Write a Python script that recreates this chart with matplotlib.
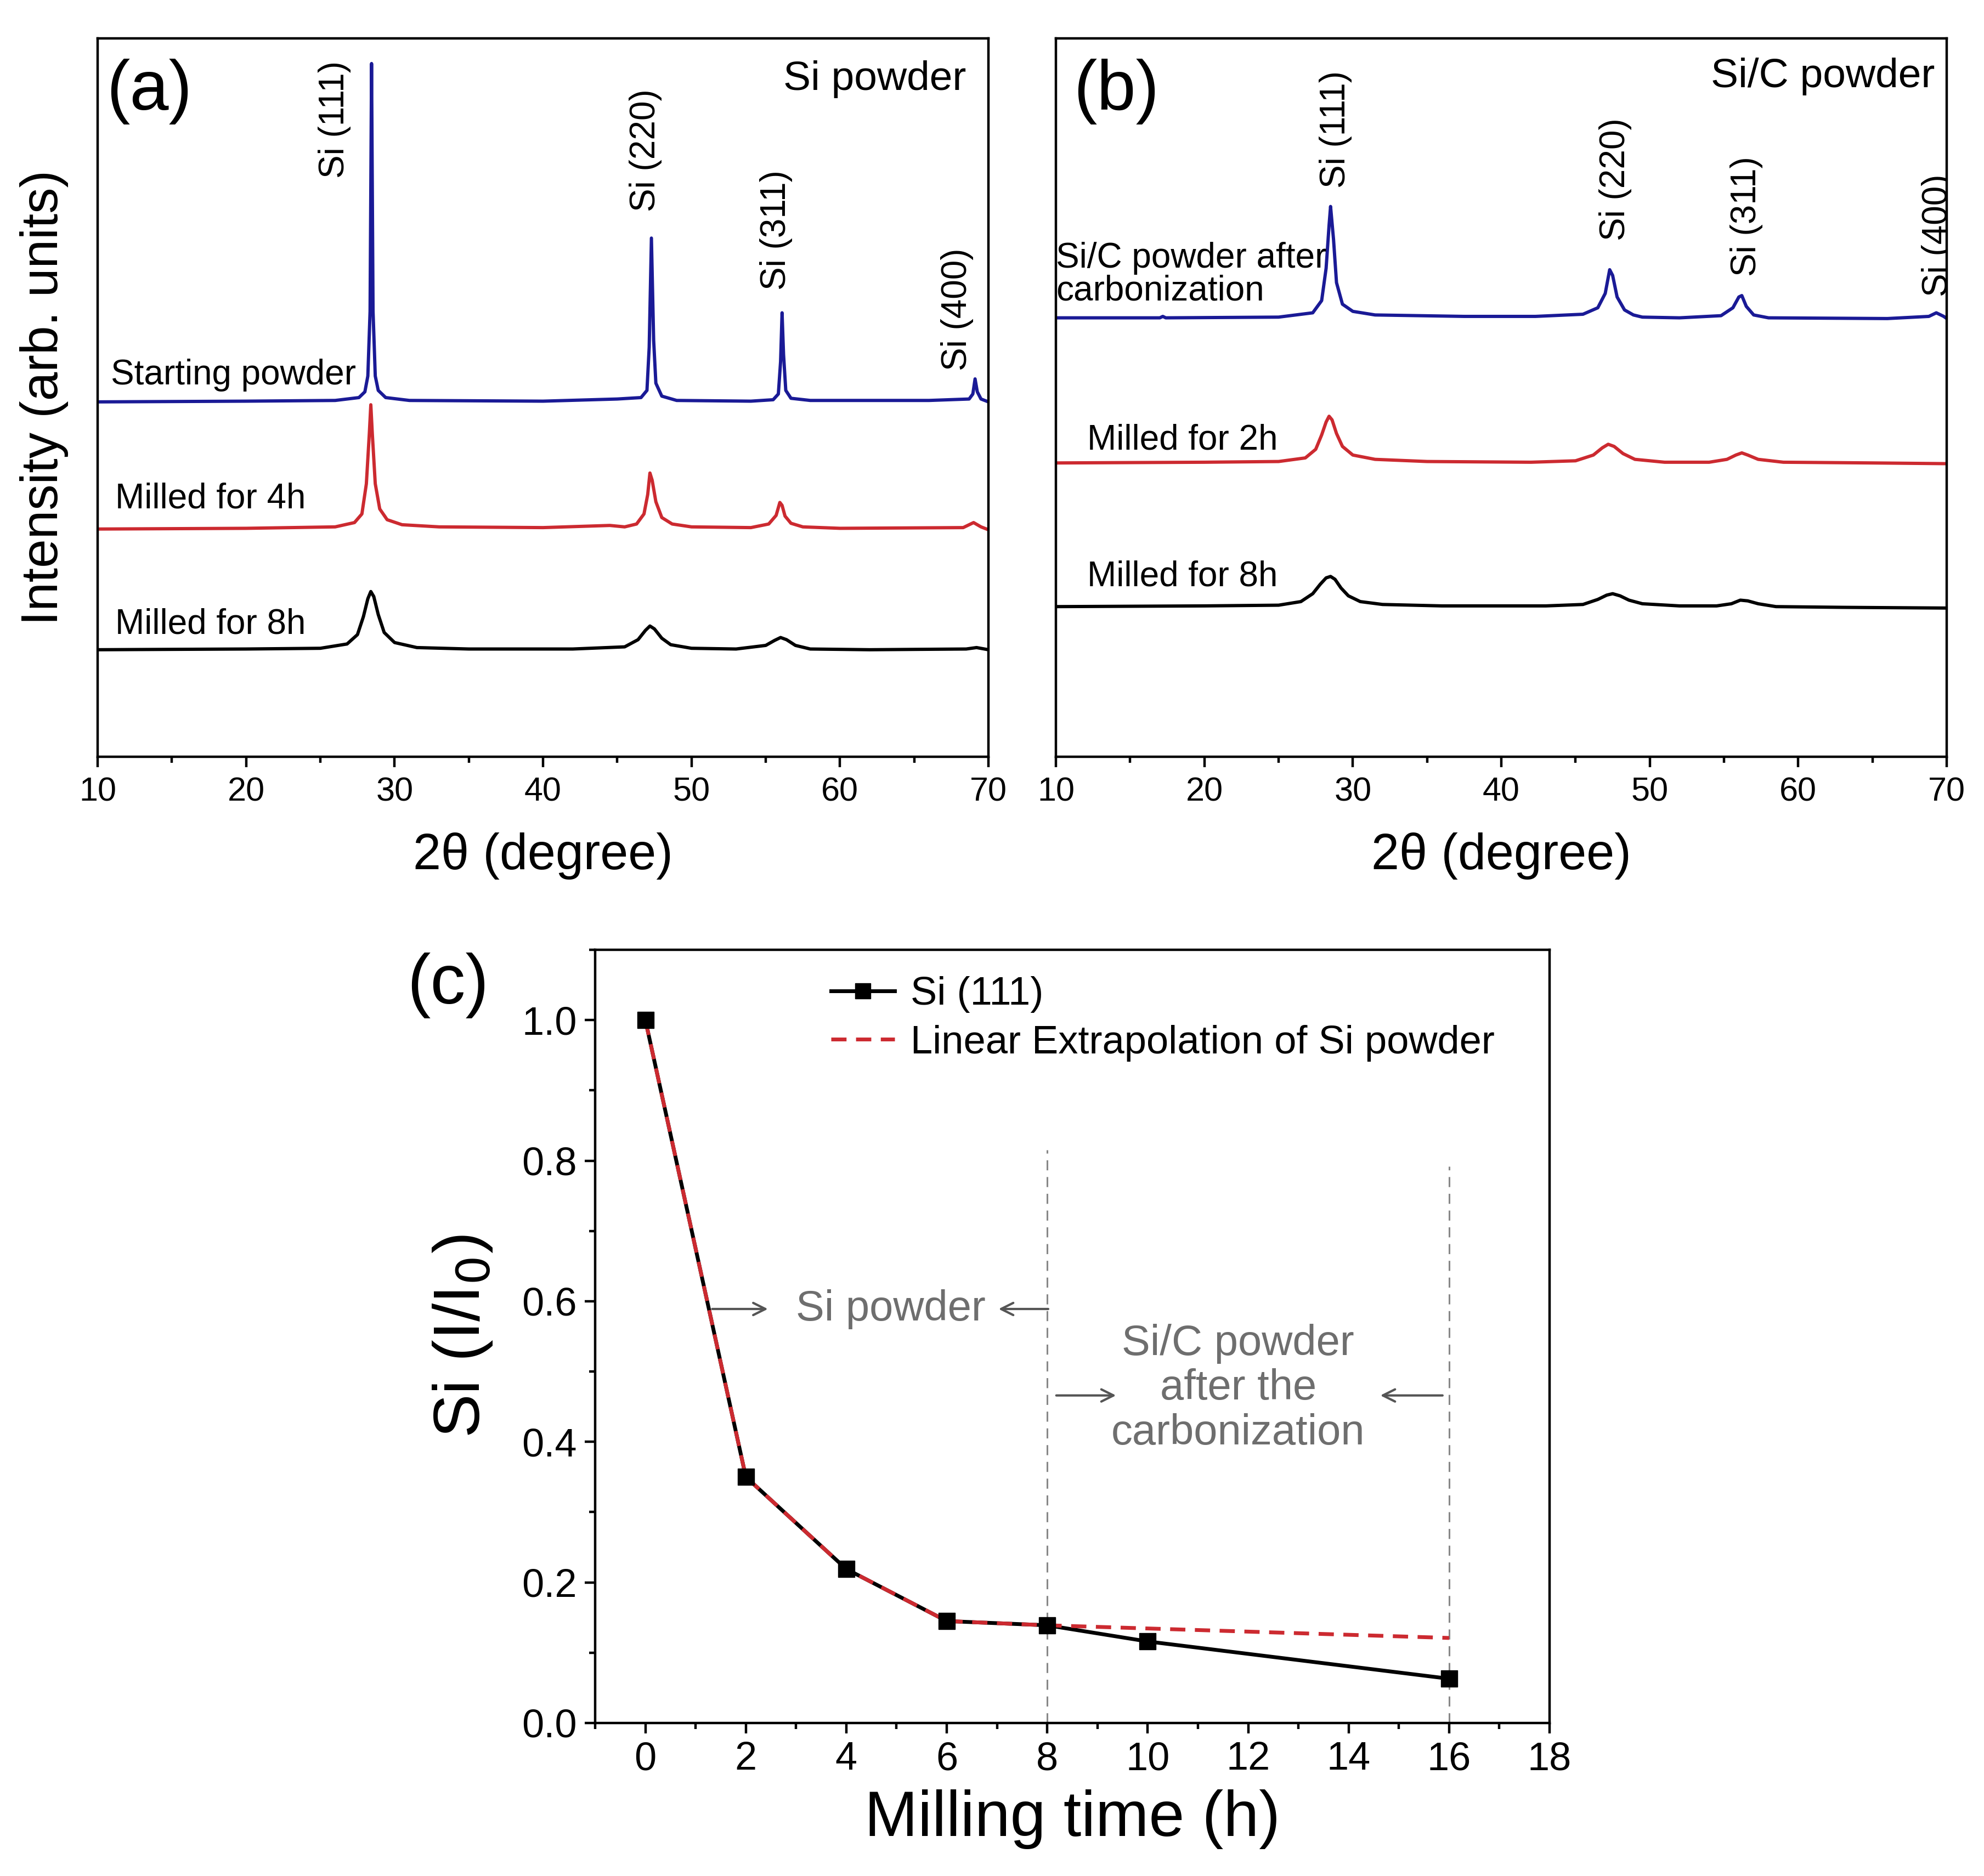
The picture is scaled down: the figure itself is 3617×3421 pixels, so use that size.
import matplotlib
matplotlib.use("Agg")
import matplotlib.pyplot as plt
from matplotlib.ticker import MultipleLocator

plt.rcParams['font.family'] = ['Liberation Sans', 'DejaVu Sans']

# ---- panel (a): Si powder, XRD traces (2theta, offset intensity) ----
a_start_x = [10, 20, 26, 27.6, 28.0, 28.2, 28.35, 28.45, 28.55, 28.7, 28.9, 29.4, 31, 40, 45,
             46.6, 47.0, 47.15, 47.3, 47.45, 47.6, 48.0, 49, 54, 55.5, 55.85, 56.0, 56.1, 56.2,
             56.35, 56.7, 58, 66, 68.7, 68.95, 69.1, 69.25, 69.5, 70]
a_start_y = [49.4, 49.5, 49.6, 50.0, 50.8, 53, 62, 96.5, 62, 53, 51, 50.0, 49.6, 49.5, 49.8,
             50.0, 51, 57, 72.2, 58, 52, 50.2, 49.6, 49.5, 49.7, 50.5, 55, 61.8, 56,
             51, 49.9, 49.6, 49.6, 49.8, 50.5, 52.6, 50.8, 49.8, 49.4]

a_4h_x = [10, 20, 26, 27.3, 27.8, 28.1, 28.3, 28.4, 28.5, 28.7, 29.0, 29.5, 30.5, 33, 40, 44.5,
          45.5, 46.3, 46.8, 47.05, 47.2, 47.35, 47.6, 48.0, 48.7, 50, 54, 55.2, 55.7, 55.95,
          56.1, 56.3, 56.7, 57.5, 60, 68.3, 69.0, 69.5, 70]
a_4h_y = [31.7, 31.8, 32.0, 32.6, 33.8, 38, 45, 49.0, 45, 38, 34.5, 33.0, 32.3, 32.0, 31.9, 32.2,
          32.0, 32.4, 33.8, 36.5, 39.5, 38.5, 35.5, 33.3, 32.4, 32.0, 31.9, 32.4, 33.6, 35.4,
          35.0, 33.5, 32.5, 32.0, 31.8, 31.9, 32.6, 32.0, 31.6]

a_8h_x = [10, 20, 25, 26.8, 27.5, 27.9, 28.2, 28.4, 28.6, 28.9, 29.3, 30.0, 31.5, 35, 42, 45.5,
          46.4, 46.9, 47.2, 47.5, 48.0, 48.6, 50, 53, 55.0, 55.6, 56.0, 56.4, 57.0, 58, 62,
          68.5, 69.2, 70]
a_8h_y = [14.9, 15.0, 15.1, 15.7, 17.0, 19.5, 22.0, 23.0, 22.3, 19.8, 17.3, 15.9, 15.2, 15.0,
          15.0, 15.3, 16.3, 17.6, 18.2, 17.8, 16.5, 15.6, 15.1, 15.0, 15.5, 16.2, 16.6, 16.3,
          15.5, 15.0, 14.9, 15.0, 15.2, 14.9]

# ---- panel (b): Si/C powder ----
b_carb_x = [10, 17, 17.2, 17.4, 25, 27.3, 27.9, 28.2, 28.4, 28.5, 28.7, 28.9, 29.3, 30, 31.5,
            37.5, 42.3, 45.5, 46.5, 47.0, 47.3, 47.5, 47.8, 48.3, 48.9, 49.5, 52, 54.8, 55.6,
            56.0, 56.2, 56.5, 57.0, 58, 66, 68.8, 69.3, 69.8, 70]
b_carb_y = [61.1, 61.1, 61.3, 61.1, 61.2, 61.8, 63.5, 68, 74, 76.6, 72, 66, 63, 62, 61.5,
            61.3, 61.3, 61.6, 62.5, 64.5, 67.8, 67.0, 64.0, 62.2, 61.5, 61.2, 61.1, 61.4, 62.5,
            64.0, 64.2, 62.7, 61.5, 61.1, 61.0, 61.3, 61.8, 61.3, 61.0]

b_2h_x = [10, 20, 25, 26.8, 27.5, 27.9, 28.2, 28.4, 28.6, 28.9, 29.3, 30, 31.5, 35, 42, 45,
          46.2, 46.8, 47.2, 47.6, 48.2, 49, 51, 54, 55.2, 55.8, 56.2, 56.6, 57.3, 59, 65, 70]
b_2h_y = [40.9, 41.0, 41.1, 41.6, 42.8, 44.8, 46.6, 47.4, 46.9, 45.0, 43.2, 42.0, 41.4, 41.1,
          41.0, 41.2, 42.0, 43.0, 43.5, 43.2, 42.2, 41.4, 41.0, 41.0, 41.4, 42.0, 42.3, 42.0,
          41.4, 41.0, 40.9, 40.8]

b_8h_x = [10, 20, 25, 26.5, 27.3, 27.8, 28.2, 28.5, 28.8, 29.2, 29.7, 30.5, 32, 36, 43, 45.5,
          46.5, 47.1, 47.5, 48.0, 48.6, 49.5, 52, 54.5, 55.5, 56.1, 56.6, 57.3, 58.5, 63, 70]
b_8h_y = [20.9, 21.0, 21.1, 21.6, 22.7, 24.0, 24.9, 25.1, 24.7, 23.5, 22.4, 21.6, 21.2, 21.0,
          21.0, 21.2, 21.9, 22.5, 22.7, 22.4, 21.8, 21.3, 21.0, 21.0, 21.3, 21.8, 21.7, 21.3,
          20.9, 20.8, 20.7]

peak_names = ["Si (111)", "Si (220)", "Si (311)", "Si (400)"]

# ---- panel (c): relative Si(111) intensity ----
mill_time = [0, 2, 4, 6, 8, 10, 16]
si111_ratio = [1.0, 0.350, 0.219, 0.145, 0.139, 0.116, 0.063]
extrap_time = [0, 2, 4, 6, 8, 16]
extrap_ratio = [1.0, 0.350, 0.219, 0.145, 0.139, 0.121]

BLUE = "#1a1a96"
RED = "#cc2a30"
GREY = "#6e6e6e"

W, H = 3617, 3421
fig = plt.figure(figsize=(W / 100, H / 100), dpi=100)


def style_xrd(ax):
    ax.set_xlim(10, 70)
    ax.set_ylim(0, 100)
    ax.set_yticks([])
    ax.xaxis.set_major_locator(MultipleLocator(10))
    ax.xaxis.set_minor_locator(MultipleLocator(5))
    ax.tick_params(axis="x", which="major", direction="out", length=14, width=3.2,
                   labelsize=44, pad=12)
    ax.tick_params(axis="x", which="minor", direction="out", length=8, width=3.2)
    for s in ax.spines.values():
        s.set_linewidth(3.2)
    ax.set_xlabel("2\u03b8 (degree)", fontsize=66, labelpad=32)


ax_a = fig.add_axes([178 / W, 1 - 1380 / H, 1624 / W, 1310 / H])
ax_a.plot(a_start_x, a_start_y, color=BLUE, lw=4.3)
ax_a.plot(a_4h_x, a_4h_y, color=RED, lw=4.3)
ax_a.plot(a_8h_x, a_8h_y, color="black", lw=4.3)
style_xrd(ax_a)
ax_a.set_ylabel("Intensity (arb. units)", fontsize=68, labelpad=38)
ax_a.text(10.6, 92.6, "(a)", fontsize=92, va="center", ha="left")
ax_a.text(68.5, 94.3, "Si powder", fontsize=54, va="center", ha="right")
ax_a.text(10.9, 53.1, "Starting powder", fontsize=46, va="center", ha="left")
ax_a.text(11.2, 35.9, "Milled for 4h", fontsize=46, va="center", ha="left")
ax_a.text(11.2, 18.4, "Milled for 8h", fontsize=46, va="center", ha="left")
for name, px, py in zip(peak_names, [25.95, 46.9, 55.7, 67.9], [88.7, 84.4, 73.3, 62.3]):
    ax_a.text(px, py, name, rotation=90, fontsize=46, va="center", ha="center")

ax_b = fig.add_axes([1925 / W, 1 - 1380 / H, 1624 / W, 1310 / H])
ax_b.plot(b_carb_x, b_carb_y, color=BLUE, lw=4.3)
ax_b.plot(b_2h_x, b_2h_y, color=RED, lw=4.3)
ax_b.plot(b_8h_x, b_8h_y, color="black", lw=4.3)
style_xrd(ax_b)
ax_b.text(11.2, 92.6, "(b)", fontsize=92, va="center", ha="left")
ax_b.text(69.2, 94.7, "Si/C powder", fontsize=54, va="center", ha="right")
ax_b.text(10.0, 67.1, "Si/C powder after\ncarbonization", fontsize=46, va="center", ha="left",
          linespacing=1.0)
ax_b.text(12.1, 44.1, "Milled for 2h", fontsize=46, va="center", ha="left")
ax_b.text(12.1, 25.1, "Milled for 8h", fontsize=46, va="center", ha="left")
for name, px, py in zip(peak_names, [28.85, 47.7, 56.5, 69.4], [87.3, 80.4, 75.2, 72.6]):
    ax_b.text(px, py, name, rotation=90, fontsize=46, va="center", ha="center", clip_on=True)

# ---- panel (c) ----
dash = (0, (4, 2.5))
ax_c = fig.add_axes([1085 / W, 1 - 3142 / H, 1740 / W, 1410 / H])
ax_c.plot(mill_time, si111_ratio, color="black", lw=5, zorder=2)
ax_c.plot(extrap_time, extrap_ratio, color=RED, lw=5, ls=dash, zorder=3)
ax_c.plot(mill_time, si111_ratio, ls="none", marker="s", ms=22, color="black", zorder=4)
h1, = ax_c.plot([], [], color="black", lw=5, marker="s", ms=20, label="Si (111)")
h2, = ax_c.plot([], [], color=RED, lw=5, ls=dash, label="Linear Extrapolation of Si powder")
ax_c.legend(handles=[h1, h2], loc="upper left", bbox_to_anchor=(0.21, 1.012), frameon=False,
            fontsize=52, handlelength=1.6, handletextpad=0.4, labelspacing=0.3)

ax_c.plot([8, 8], [0, 0.815], color="#888888", lw=2.2, ls=(0, (6, 4)), zorder=1)
ax_c.plot([16, 16], [0, 0.792], color="#888888", lw=2.2, ls=(0, (6, 4)), zorder=1)

ax_c.text(4.88, 0.589, "Si powder", fontsize=56, color=GREY, ha="center", va="center")
ax_c.text(11.8, 0.476, "Si/C powder\nafter the\ncarbonization", fontsize=56, color=GREY,
          ha="center", va="center", linespacing=1.15)
arrow = dict(arrowstyle="->", color="#555555", lw=3, mutation_scale=40)
ax_c.annotate("", xy=(2.47, 0.589), xytext=(1.3, 0.589), arrowprops=arrow)
ax_c.annotate("", xy=(7.0, 0.589), xytext=(8.05, 0.589), arrowprops=arrow)
ax_c.annotate("", xy=(9.4, 0.466), xytext=(8.15, 0.466), arrowprops=arrow)
ax_c.annotate("", xy=(14.6, 0.466), xytext=(15.9, 0.466), arrowprops=arrow)

ax_c.set_xlim(-1, 18)
ax_c.set_ylim(0, 1.1)
ax_c.xaxis.set_major_locator(MultipleLocator(2))
ax_c.xaxis.set_minor_locator(MultipleLocator(1))
ax_c.yaxis.set_minor_locator(MultipleLocator(0.1))
ax_c.set_yticks([0, 0.2, 0.4, 0.6, 0.8, 1.0])
ax_c.set_yticklabels(["0.0", "0.2", "0.4", "0.6", "0.8", "1.0"])
ax_c.tick_params(which="major", direction="out", length=14, width=3.2, labelsize=52, pad=10)
ax_c.tick_params(which="minor", direction="out", length=8, width=3.2)
for s in ax_c.spines.values():
    s.set_linewidth(3.2)
ax_c.set_xlabel("Milling time (h)", fontsize=84, labelpad=15)
ax_c.set_ylabel("Si (I/I$_0$)", fontsize=86, labelpad=36)
fig.text(742 / W, 1 - 1797 / H, "(c)", fontsize=92, va="center", ha="left")

fig.savefig("out.png", dpi=100)
